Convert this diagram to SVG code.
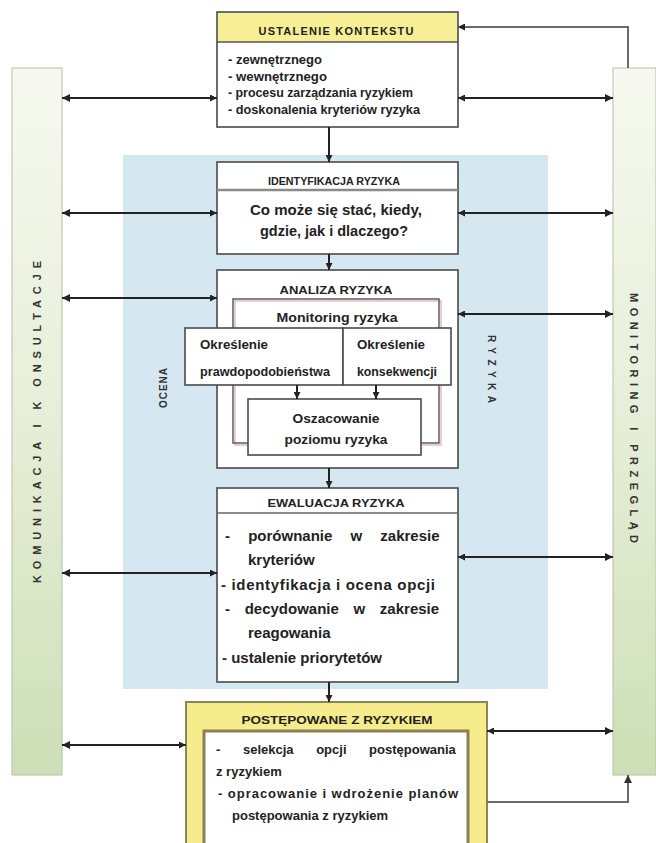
<svg xmlns="http://www.w3.org/2000/svg" width="656" height="843" viewBox="0 0 656 843">
  <style>
    text { font-family: "Liberation Sans", Arial, sans-serif; fill: #222; font-weight: bold; }
    .box { fill: #fff; stroke: #4a4a4a; stroke-width: 1.6; }
    .hdr { font-size: 11px; text-anchor: middle; }
    .sm { font-size: 12px; }
    .md { font-size: 13px; }
    .lg { font-size: 15px; }
    .mid { text-anchor: middle; }
    .side { font-size: 11px; text-anchor: middle; fill: #333; }
    .tag { font-size: 10px; text-anchor: middle; fill: #333; }
    .con { stroke: #222; stroke-width: 2; fill: none; }
    .loop { stroke: #6a6a6a; stroke-width: 2; fill: none; }
  </style>
  <defs>
    <linearGradient id="barFill" x1="0" y1="0" x2="0" y2="1">
      <stop offset="0" stop-color="#f7f9f0"/>
      <stop offset="0.5" stop-color="#e6eed8"/>
      <stop offset="1" stop-color="#cddfb6"/>
    </linearGradient>
    <marker id="ah" viewBox="0 0 10 10" refX="10" refY="5" markerUnits="userSpaceOnUse" markerWidth="10" markerHeight="8" orient="auto-start-reverse">
      <path d="M0,0 L10,5 L0,10 z" fill="#222"/>
    </marker>
    <marker id="ahs" viewBox="0 0 10 10" refX="10" refY="5" markerUnits="userSpaceOnUse" markerWidth="7" markerHeight="7" orient="auto-start-reverse">
      <path d="M0,0 L10,5 L0,10 z" fill="#222"/>
    </marker>
    <marker id="ahg" viewBox="0 0 10 10" refX="10" refY="5" markerUnits="userSpaceOnUse" markerWidth="9" markerHeight="8" orient="auto">
      <path d="M0,0 L10,5 L0,10 z" fill="#333"/>
    </marker>
  </defs>

  <rect width="656" height="843" fill="#fff"/>

  <!-- assessment background band -->
  <g id="ocena-ryzyka">
    <rect x="123" y="155" width="425" height="534" fill="#d5e7f0"/>
    <text class="tag" transform="translate(167,388) rotate(-90)" textLength="40" lengthAdjust="spacing">OCENA</text>
    <text class="tag" transform="translate(488,369) rotate(90)" textLength="68" lengthAdjust="spacing">RYZYKA</text>
  </g>

  <!-- side bars -->
  <g id="komunikacja">
    <rect x="12" y="68" width="50" height="707" fill="url(#barFill)" stroke="#b7c0a8" stroke-width="1"/>
    <text class="side" transform="translate(41,422) rotate(-90)" textLength="322" lengthAdjust="spacing">KOMUNIKACJA I K ONSULTACJE</text>
  </g>
  <g id="monitoring">
    <rect x="613" y="68" width="43" height="707" fill="url(#barFill)" stroke="#b7c0a8" stroke-width="1"/>
    <text class="side" transform="translate(630,418) rotate(90)" textLength="250" lengthAdjust="spacing">MONITORING I PRZEGLĄD</text>
  </g>

  <!-- context -->
  <g id="kontekst">
    <rect class="box" x="217" y="12" width="241" height="115"/>
    <rect x="218" y="13" width="239" height="29" fill="#f7ee96"/>
    <line x1="217" y1="42" x2="458" y2="42" stroke="#555" stroke-width="1.5"/>
    <text class="hdr" x="336" y="35" textLength="155" lengthAdjust="spacing">USTALENIE KONTEKSTU</text>
    <text class="sm" x="228" y="64" textLength="94" lengthAdjust="spacingAndGlyphs">- zewnętrznego</text>
    <text class="sm" x="228" y="81" textLength="99" lengthAdjust="spacingAndGlyphs">- wewnętrznego</text>
    <text class="sm" x="228" y="97" textLength="185" lengthAdjust="spacingAndGlyphs">- procesu zarządzania ryzykiem</text>
    <text class="sm" x="228" y="114" textLength="192" lengthAdjust="spacingAndGlyphs">- doskonalenia kryteriów ryzyka</text>
  </g>

  <!-- identification -->
  <g id="identyfikacja">
    <rect class="box" x="217" y="162" width="241" height="92"/>
    <line x1="217" y1="190" x2="458" y2="190" stroke="#8a8a8a" stroke-width="2.5"/>
    <text class="hdr" x="334" y="185" textLength="132" lengthAdjust="spacingAndGlyphs">IDENTYFIKACJA RYZYKA</text>
    <text class="lg mid" x="336" y="215" textLength="172" lengthAdjust="spacingAndGlyphs">Co może się stać, kiedy,</text>
    <text class="lg mid" x="334" y="236" textLength="148" lengthAdjust="spacingAndGlyphs">gdzie, jak i dlaczego?</text>
  </g>

  <!-- analysis -->
  <g id="analiza">
    <rect class="box" x="217" y="270" width="241" height="198"/>
    <text class="hdr" x="336" y="294" textLength="113" lengthAdjust="spacingAndGlyphs">ANALIZA RYZYKA</text>
    <rect x="235" y="301" width="206" height="144" fill="none" stroke="#d6b0b0" stroke-width="1.2"/>
    <rect x="233" y="299" width="206" height="144" fill="none" stroke="#5a5050" stroke-width="1.4"/>
    <text class="sm mid" x="337" y="322" textLength="121" lengthAdjust="spacingAndGlyphs">Monitoring ryzyka</text>
  </g>
  <g id="prawdopodobienstwo">
    <rect class="box" x="185" y="328" width="158" height="57"/>
    <text class="sm" x="200" y="349" textLength="68" lengthAdjust="spacingAndGlyphs">Określenie</text>
    <text class="sm" x="200" y="376" textLength="130" lengthAdjust="spacingAndGlyphs">prawdopodobieństwa</text>
  </g>
  <g id="konsekwencje">
    <rect class="box" x="343" y="328" width="108" height="57"/>
    <text class="sm" x="357" y="349" textLength="68" lengthAdjust="spacingAndGlyphs">Określenie</text>
    <text class="sm" x="357" y="376" textLength="80" lengthAdjust="spacingAndGlyphs">konsekwencji</text>
  </g>
  <g id="oszacowanie">
    <rect class="box" x="248" y="399" width="173" height="56"/>
    <text class="sm mid" x="336" y="423" textLength="87" lengthAdjust="spacingAndGlyphs">Oszacowanie</text>
    <text class="sm mid" x="336" y="444" textLength="103" lengthAdjust="spacingAndGlyphs">poziomu ryzyka</text>
  </g>

  <!-- evaluation -->
  <g id="ewaluacja">
    <rect class="box" x="217" y="488" width="241" height="194"/>
    <line x1="217" y1="513" x2="458" y2="513" stroke="#666" stroke-width="1.5"/>
    <text class="hdr" x="336" y="507" textLength="137" lengthAdjust="spacingAndGlyphs">EWALUACJA RYZYKA</text>
    <text class="lg" x="225" y="541" word-spacing="14">- porównanie w zakresie</text>
    <text class="lg" x="248" y="565">kryteriów</text>
    <text class="lg" x="221" y="590" textLength="214" lengthAdjust="spacing">- identyfikacja i ocena opcji</text>
    <text class="lg" x="225" y="614" word-spacing="10.5">- decydowanie w zakresie</text>
    <text class="lg" x="248" y="638">reagowania</text>
    <text class="lg" x="222" y="663">- ustalenie priorytetów</text>
  </g>

  <!-- treatment -->
  <g id="postepowanie">
    <rect x="186" y="702" width="301" height="150" fill="#f7ec8c" stroke="#8c8456" stroke-width="2"/>
    <text class="hdr" x="337" y="724" textLength="191" lengthAdjust="spacingAndGlyphs">POSTĘPOWANE Z RYZYKIEM</text>
    <rect x="204" y="731" width="264" height="130" fill="#fff" stroke="#8a7f55" stroke-width="3"/>
    <text class="md" x="216" y="754" word-spacing="19">- selekcja opcji postępowania</text>
    <text class="md" x="216" y="776">z ryzykiem</text>
    <text class="md" x="218" y="798" textLength="240" lengthAdjust="spacing">- opracowanie i wdrożenie planów</text>
    <text class="md" x="232" y="820">postępowania z ryzykiem</text>
  </g>

  <!-- connectors -->
  <g id="connectors">
    <!-- main flow -->
    <line class="con" x1="329" y1="127" x2="329" y2="162" marker-end="url(#ahs)"/>
    <line class="con" x1="329" y1="254" x2="329" y2="270" marker-end="url(#ahs)"/>
    <line class="con" x1="329" y1="468" x2="329" y2="488" marker-end="url(#ahs)"/>
    <line class="con" x1="329" y1="682" x2="329" y2="702" marker-end="url(#ahs)"/>
    <line class="con" x1="297" y1="385" x2="297" y2="399" marker-end="url(#ahs)"/>
    <line class="con" x1="376" y1="385" x2="376" y2="399" marker-end="url(#ahs)"/>
    <!-- communication and consultation -->
    <line class="con" x1="62" y1="98" x2="217" y2="98" marker-start="url(#ah)" marker-end="url(#ahs)"/>
    <line class="con" x1="62" y1="213" x2="217" y2="213" marker-start="url(#ah)" marker-end="url(#ahs)"/>
    <line class="con" x1="62" y1="298" x2="217" y2="298" marker-start="url(#ah)" marker-end="url(#ahs)"/>
    <line class="con" x1="62" y1="573" x2="217" y2="573" marker-start="url(#ah)" marker-end="url(#ahs)"/>
    <line class="con" x1="62" y1="745" x2="186" y2="745" marker-start="url(#ah)" marker-end="url(#ahs)"/>
    <!-- monitoring and review -->
    <line class="con" x1="458" y1="98" x2="613" y2="98" marker-start="url(#ahs)" marker-end="url(#ah)"/>
    <line class="con" x1="458" y1="213" x2="613" y2="213" marker-start="url(#ahs)" marker-end="url(#ah)"/>
    <line class="con" x1="458" y1="314" x2="613" y2="314" marker-start="url(#ahs)" marker-end="url(#ah)"/>
    <line class="con" x1="458" y1="557" x2="613" y2="557" marker-start="url(#ahs)" marker-end="url(#ah)"/>
    <line class="con" x1="487" y1="731" x2="613" y2="731" marker-start="url(#ahs)" marker-end="url(#ah)"/>
    <!-- feedback loop -->
    <polyline class="loop" points="628,68 628,27 458,27" marker-end="url(#ahs)"/>
    <polyline class="loop" points="487,802 628,802 628,775" marker-end="url(#ahg)"/>
  </g>
</svg>
